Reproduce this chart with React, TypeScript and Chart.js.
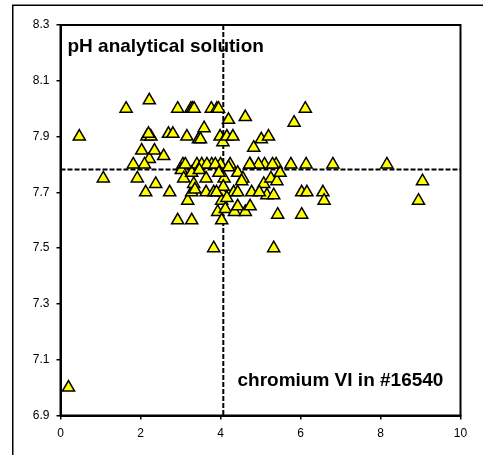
import React, { useEffect, useRef } from "react";
import { Chart, registerables } from "chart.js";

Chart.register(...registerables);

const chromiumVI: number[] = [
  0.2, 0.47, 1.07, 1.64, 2.22, 1.82, 1.92, 2.03, 2.13, 2.16, 2.26, 2.22, 2.35, 2.38, 2.58, 2.1,
  2.7, 2.81, 2.73, 2.93, 2.93, 3.28, 3.16, 3.26, 3.3, 3.34, 3.06, 3.02, 3.08, 3.18, 3.28, 3.33,
  3.36, 3.41, 3.53, 3.45, 3.5, 3.59, 3.64, 3.64, 3.78, 3.77, 3.91, 3.95, 3.83, 3.83, 3.93, 4.0,
  3.99, 4.06, 4.03, 4.03, 4.03, 4.09, 4.12, 4.2, 4.16, 4.24, 4.31, 4.33, 4.35, 4.43, 4.43, 4.43,
  4.56, 4.62, 4.62, 4.74, 4.74, 4.78, 4.83, 5.02, 5.1, 5.08, 5.16, 5.2, 5.26, 5.33, 5.33, 5.39,
  5.41, 5.43, 5.49, 5.76, 5.84, 6.03, 6.03, 6.12, 6.14, 6.16, 6.56, 6.59, 6.81, 8.16, 9.05, 8.95,
  3.66, 3.28, 3.47, 3.87, 3.96, 4.07, 4.16, 4.53, 3.12, 4.2, 3.9, 4.97, 5.3, 4.95, 2.2, 4.73,
];

const phValues: number[] = [
  7.0, 7.9, 7.75, 8.0, 8.03, 7.8, 7.75, 7.85, 7.7, 7.9, 7.9, 7.82, 7.85, 7.73, 7.83, 7.8,
  7.91, 7.91, 7.7, 8.0, 7.6, 7.6, 7.9, 8.0, 8.0, 8.0, 7.8, 7.78, 7.75, 7.67, 7.7, 7.73,
  7.71, 7.8, 7.8, 7.89, 7.89, 7.93, 7.75, 7.7, 7.8, 8.0, 8.0, 8.0, 7.5, 7.7, 7.63, 7.8,
  7.9, 7.88, 7.7, 7.67, 7.6, 7.75, 7.64, 7.96, 7.9, 7.8, 7.9, 7.7, 7.63, 7.77, 7.65, 7.7,
  7.75, 7.97, 7.63, 7.8, 7.65, 7.7, 7.86, 7.89, 7.8, 7.73, 7.69, 7.9, 7.75, 7.69, 7.5, 7.8,
  7.74, 7.62, 7.77, 7.8, 7.95, 7.7, 7.62, 8.0, 7.8, 7.7, 7.7, 7.67, 7.8, 7.8, 7.74, 7.67,
  7.8, 7.77, 7.78, 7.8, 7.77, 7.72, 7.68, 7.74, 7.8, 7.79, 7.7, 7.7, 7.8, 7.8, 7.91, 7.8,
];

const xTicks: number[] = [0, 2, 4, 6, 8, 10];
const yTicks: number[] = [6.9, 7.1, 7.3, 7.5, 7.7, 7.9, 8.1, 8.3];
const medianX = 4.07;
const medianY = 7.782;
const titleText = "pH analytical solution";
const xLabelText = "chromium VI in #16540";

export default function App() {
  const ref = useRef<HTMLCanvasElement | null>(null);

  useEffect(() => {
    if (!ref.current) return;
    const points = chromiumVI.map((x, i) => ({ x, y: phValues[i] }));

    const framePlugin = {
      id: "frame",
      beforeDatasetsDraw(chart: any) {
        const { ctx, chartArea, scales } = chart;
        ctx.save();
        ctx.strokeStyle = "#000";
        ctx.lineWidth = 2;
        ctx.setLineDash([5, 2]);
        const px = scales.x.getPixelForValue(medianX);
        const py = scales.y.getPixelForValue(medianY);
        ctx.beginPath();
        ctx.moveTo(px, chartArea.top);
        ctx.lineTo(px, chartArea.bottom);
        ctx.moveTo(chartArea.left, py);
        ctx.lineTo(chartArea.right, py);
        ctx.stroke();
        ctx.setLineDash([]);
        ctx.lineWidth = 2;
        ctx.strokeRect(
          chartArea.left,
          chartArea.top,
          chartArea.right - chartArea.left,
          chartArea.bottom - chartArea.top
        );
        ctx.restore();
      },
      afterDraw(chart: any) {
        const { ctx, chartArea } = chart;
        ctx.save();
        ctx.fillStyle = "#000";
        ctx.font = "bold 19px 'Liberation Sans', Arial, sans-serif";
        ctx.textBaseline = "alphabetic";
        ctx.textAlign = "left";
        ctx.fillText(titleText, chartArea.left + 7, chartArea.top + 27);
        ctx.fillText(xLabelText, chartArea.left + 177, chartArea.bottom - 30);
        ctx.strokeStyle = "#000";
        ctx.lineWidth = 1.5;
        ctx.strokeRect(12.75, 5.25, 490, 470);
        ctx.restore();
      },
    };

    const tickFont = { family: "'Liberation Sans', Arial, sans-serif", size: 12 };

    const chart = new Chart(ref.current, {
      type: "scatter",
      data: {
        datasets: [
          {
            data: points,
            pointStyle: "triangle",
            pointRadius: 7,
            pointHoverRadius: 7,
            backgroundColor: "#FFFF00",
            borderColor: "#000",
            borderWidth: 1.5,
          },
        ],
      },
      options: {
        animation: false,
        responsive: false,
        maintainAspectRatio: false,
        events: [],
        layout: { padding: { left: 0, top: 25, right: 22.5, bottom: 0 } },
        plugins: { legend: { display: false }, tooltip: { enabled: false } },
        scales: {
          x: {
            type: "linear",
            min: 0,
            max: 10,
            afterBuildTicks: (s: any) => {
              s.ticks = xTicks.map((v) => ({ value: v }));
            },
            afterFit: (s: any) => {
              s.height = 39.5;
            },
            grid: { display: true, drawOnChartArea: false, drawTicks: true, tickLength: 4, color: "#000", lineWidth: 1.5 },
            border: { display: true, color: "#000", width: 2 },
            ticks: { color: "#000", font: tickFont, padding: 7, maxRotation: 0, callback: (v: any) => String(v) },
          },
          y: {
            type: "linear",
            min: 6.9,
            max: 8.3,
            afterBuildTicks: (s: any) => {
              s.ticks = yTicks.map((v) => ({ value: v }));
            },
            afterFit: (s: any) => {
              s.width = 60.5;
            },
            grid: { display: true, drawOnChartArea: false, drawTicks: true, tickLength: 4, color: "#000", lineWidth: 1.5 },
            border: { display: true, color: "#000", width: 2 },
            ticks: { color: "#000", font: tickFont, padding: 7, callback: (v: any) => Number(v).toFixed(1) },
          },
        },
      },
      plugins: [framePlugin],
    });

    return () => chart.destroy();
  }, []);

  return (
    <div style={{ position: "absolute", left: 0, top: 0, width: 483, height: 455, background: "#fff" }}>
      <canvas ref={ref} width={483} height={455} style={{ width: 483, height: 455, display: "block" }} />
    </div>
  );
}
